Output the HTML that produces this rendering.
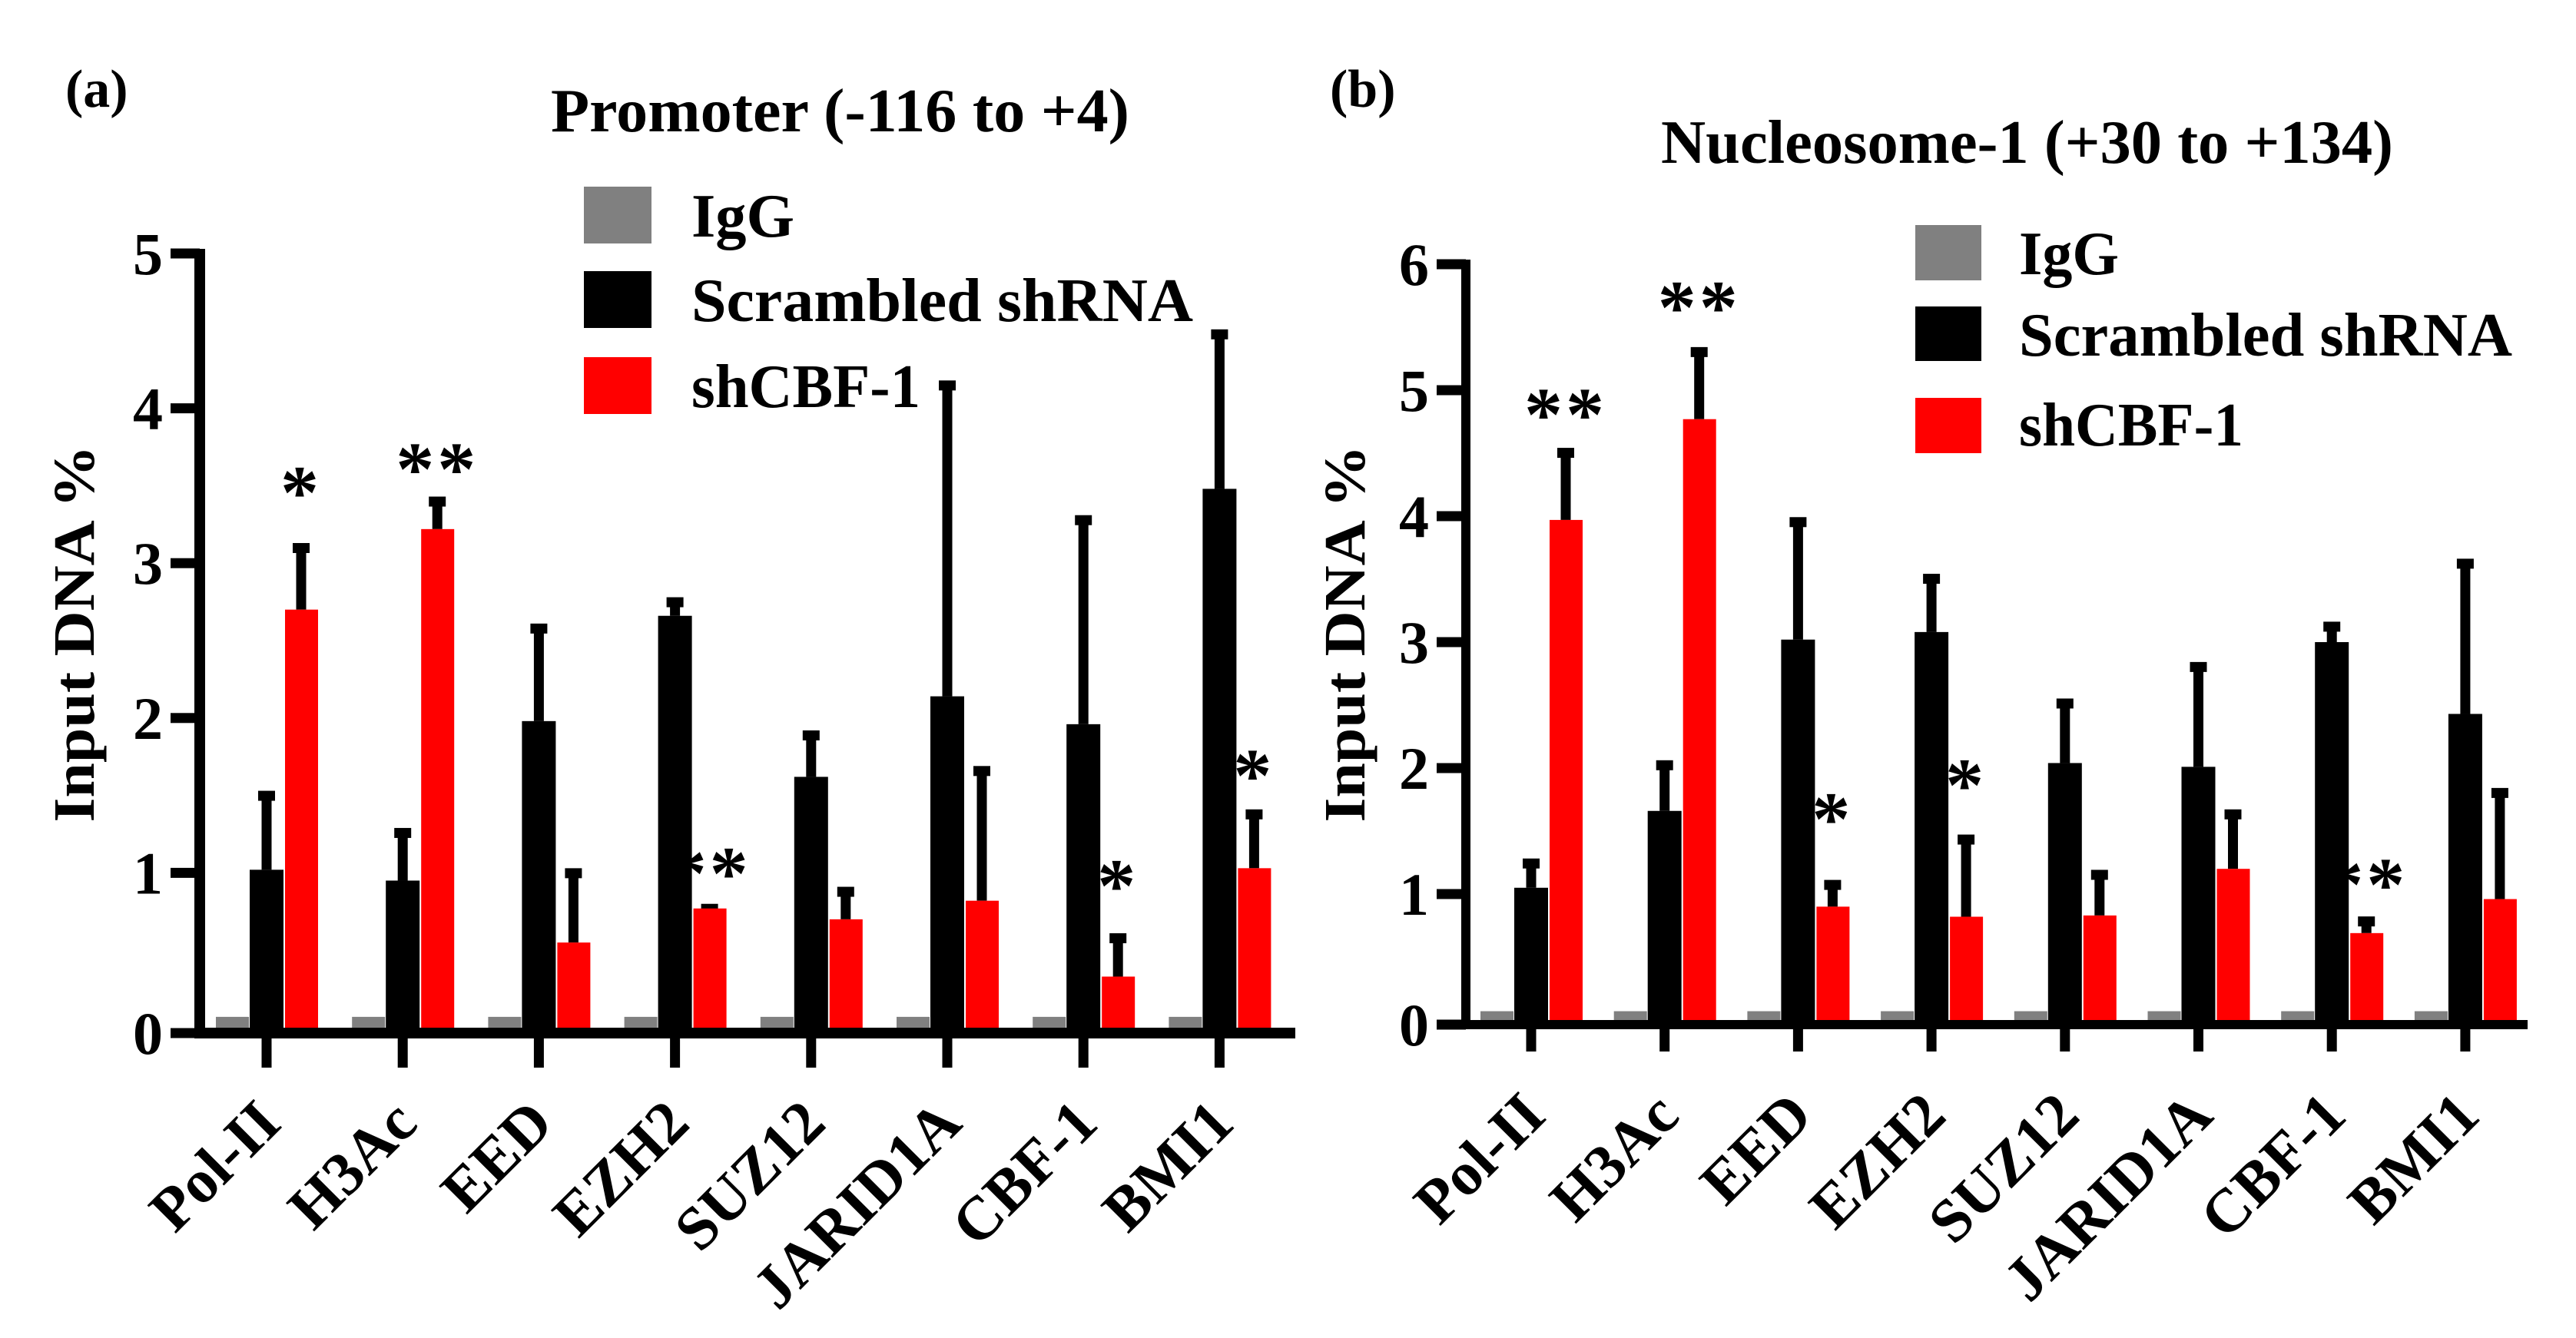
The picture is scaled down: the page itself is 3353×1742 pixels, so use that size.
<!DOCTYPE html>
<html><head><meta charset="utf-8"><style>
html,body{margin:0;padding:0;background:#fff;}
svg{display:block;}
text{font-family:"Liberation Serif",serif;font-weight:bold;fill:#000;}
</style></head><body>
<svg id="fig" width="3353" height="1742" viewBox="0 0 3353 1742" xmlns="http://www.w3.org/2000/svg">
<g id="pa"></g>
<g id="pb"></g>
</svg>
<script>
const categories = ["Pol-II","H3Ac","EED","EZH2","SUZ12","JARID1A","CBF-1","BMI1"];
const iggA = [0.07,0.07,0.07,0.07,0.07,0.07,0.07,0.07];
const scrA = [1.02,0.95,1.98,2.66,1.62,2.14,1.96,3.48];
const scrErrTopA = [1.52,1.28,2.6,2.77,1.91,4.17,3.3,4.5];
const shA = [2.7,3.22,0.55,0.77,0.7,0.82,0.33,1.03];
const shErrTopA = [3.12,3.42,1.02,0.79,0.9,1.68,0.6,1.4];
const starA = ["*","**","","**","","","*","*"];
const starPosA = [3.55,3.7,0,1.09,0,0,1.01,1.72];
const ticksA = [0,1,2,3,4,5];

const iggB = [0.07,0.07,0.07,0.07,0.07,0.07,0.07,0.07];
const scrB = [1.05,1.66,3.02,3.08,2.04,2.01,3.0,2.43];
const scrErrTopB = [1.27,2.05,3.98,3.53,2.54,2.83,3.15,3.65];
const shB = [3.97,4.77,0.9,0.82,0.83,1.2,0.69,0.96];
const shErrTopB = [4.53,5.33,1.1,1.46,1.18,1.66,0.81,1.83];
const starB = ["**","**","*","*","","","**",""];
const starPosB = [4.92,5.77,1.71,1.98,0,0,1.19,0];
const ticksB = [0,1,2,3,4,5,6];

const NS="http://www.w3.org/2000/svg";
function mk(parent,tag,attrs,txt){const e=document.createElementNS(NS,tag);for(const k in attrs)e.setAttribute(k,attrs[k]);if(txt!==undefined)e.textContent=txt;parent.appendChild(e);return e;}

function panel(g,cfg){
  const y=v=>cfg.y0-v*cfg.unit;
  const x=i=>cfg.x0+i*cfg.step;
  categories.forEach((c,i)=>{
    const cx=x(i);
    let r=mk(g,"rect",{x:cx-66,y:y(cfg.igg[i]),width:43,height:y(0)-y(cfg.igg[i]),fill:"#808080"});
    
    
    let e1=mk(g,"rect",{x:cx-6.5,y:y(cfg.scrErr[i]),width:13,height:y(cfg.scr[i])-y(cfg.scrErr[i]),fill:"#000"});
    
    
    let c1=mk(g,"rect",{x:cx-11,y:y(cfg.scrErr[i])-2,width:22,height:13,fill:"#000"});
    
    
    r=mk(g,"rect",{x:cx-22,y:y(cfg.scr[i]),width:44,height:y(0)-y(cfg.scr[i]),fill:"#000"});
    
    
    const rx=cx+45;
    let e2=mk(g,"rect",{x:rx-6.5,y:y(cfg.shErr[i]),width:13,height:Math.max(0,y(cfg.sh[i])-y(cfg.shErr[i])),fill:"#000"});
    
    
    let c2=mk(g,"rect",{x:rx-11,y:y(cfg.shErr[i])-2,width:22,height:13,fill:"#000"});
    
    
    r=mk(g,"rect",{x:cx+24,y:y(cfg.sh[i]),width:43,height:y(0)-y(cfg.sh[i]),fill:"#ff0000"});
    
    
    if(cfg.star[i]){
      let s=mk(g,"text",{x:rx,y:y(cfg.starPos[i])+52,"font-size":100,"text-anchor":"middle","letter-spacing":"4"},cfg.star[i]);
      
      
    }
    let t=mk(g,"rect",{x:cx-6.5,y:cfg.y0,width:13,height:cfg.tickLen,fill:"#000"});
    
    
    let lx=cx+22, ly=cfg.y0+128;
    let l=mk(g,"text",{x:lx,y:ly,"font-size":80,"text-anchor":"end",transform:`rotate(-45 ${lx} ${ly})`},c);
    
    
  });
  const top=y(cfg.ticks[cfg.ticks.length-1]);
  let ax=mk(g,"rect",{x:cfg.ax-cfg.aw/2,y:top-6,width:cfg.aw,height:cfg.y0-top+6+cfg.aw,fill:"#000"});
  
  
  let xa=mk(g,"rect",{x:cfg.ax-cfg.aw/2,y:cfg.y0,width:cfg.xEnd-cfg.ax+cfg.aw/2,height:cfg.aw,fill:"#000"});
  
  
  cfg.ticks.forEach(v=>{
    const ty=v===0?cfg.y0+cfg.aw/2:y(v);
    let t=mk(g,"rect",{x:cfg.ax-38,y:ty-6.5,width:38,height:13,fill:"#000"});
    
    
    let l=mk(g,"text",{x:cfg.ax-48,y:ty+27,"font-size":78,"text-anchor":"end"},String(v));
    
    
  });
}

const A=document.getElementById('pa'), B=document.getElementById('pb');
panel(A,{x0:347,step:177.2,y0:1338,unit:201.6,ax:260,aw:14,xEnd:1686,tickLen:52,igg:iggA,scr:scrA,scrErr:scrErrTopA,sh:shA,shErr:shErrTopA,star:starA,starPos:starPosA,ticks:ticksA});
panel(B,{x0:1993,step:173.7,y0:1328,unit:164,ax:1908,aw:12,xEnd:3290,tickLen:41,igg:iggB,scr:scrB,scrErr:scrErrTopB,sh:shB,shErr:shErrTopB,star:starB,starPos:starPosB,ticks:ticksB});
</script>
<svg style="position:absolute;left:0;top:0" width="3353" height="1742">
<text x="85" y="139" font-size="70">(a)</text>
<text x="717" y="171" font-size="80" textLength="753" lengthAdjust="spacingAndGlyphs">Promoter (-116 to +4)</text>
<text x="0" y="0" font-size="76" text-anchor="middle" transform="translate(122 825) rotate(-90)" textLength="491" lengthAdjust="spacingAndGlyphs">Input DNA %</text>
<rect x="760" y="243" width="88" height="74" fill="#808080"/>
<rect x="760" y="353" width="88" height="74" fill="#000"/>
<rect x="760" y="465" width="88" height="74" fill="#ff0000"/>
<text x="900" y="308" font-size="80" textLength="134" lengthAdjust="spacingAndGlyphs">IgG</text>
<text x="900" y="418" font-size="80" textLength="653" lengthAdjust="spacingAndGlyphs">Scrambled shRNA</text>
<text x="900" y="530" font-size="80" textLength="298" lengthAdjust="spacingAndGlyphs">shCBF-1</text>

<text x="1731" y="139" font-size="70">(b)</text>
<text x="2162" y="212" font-size="80" textLength="953" lengthAdjust="spacingAndGlyphs">Nucleosome-1 (+30 to +134)</text>
<text x="0" y="0" font-size="76" text-anchor="middle" transform="translate(1776 825) rotate(-90)" textLength="491" lengthAdjust="spacingAndGlyphs">Input DNA %</text>
<rect x="2493" y="293" width="86" height="72" fill="#808080"/>
<rect x="2493" y="399" width="86" height="71" fill="#000"/>
<rect x="2493" y="518" width="86" height="72" fill="#ff0000"/>
<text x="2628" y="357" font-size="80" textLength="130" lengthAdjust="spacingAndGlyphs">IgG</text>
<text x="2628" y="463" font-size="80" textLength="642" lengthAdjust="spacingAndGlyphs">Scrambled shRNA</text>
<text x="2628" y="580" font-size="80" textLength="292" lengthAdjust="spacingAndGlyphs">shCBF-1</text>
</svg>
</body></html>
